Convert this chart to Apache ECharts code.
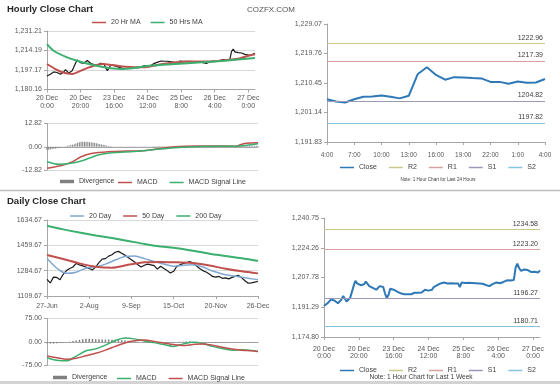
<!DOCTYPE html>
<html><head><meta charset="utf-8">
<script src="https://cdn.jsdelivr.net/npm/echarts@6/dist/echarts.min.js"></script>
<style>html,body{margin:0;padding:0;background:#fff}#c{width:560px;height:384px}</style>
</head><body><div id="c"></div>
<script>
// ---------- DATA ----------
const weekTicks = ['20 Dec\n0:00','20 Dec\n20:00','23 Dec\n16:00','24 Dec\n12:00','25 Dec\n8:00','26 Dec\n4:00','27 Dec\n0:00'];
const hour24 = ['4:00','5:00','6:00','7:00','8:00','9:00','10:00','11:00','12:00','13:00','14:00','15:00','16:00','17:00','18:00','19:00','20:00','21:00','22:00','23:00','0:00','1:00','2:00','3:00','4:00'];
const dailyTicks = ['27-Jun','2-Aug','9-Sep','15-Oct','20-Nov','26-Dec'];

const yHourly = ['1,180.16','1,197.17','1,214.19','1,231.21'];
const yMacdH = ['-12.82','0.00','12.82'];
const y24 = ['1,191.83','1,201.14','1,210.45','1,219.76','1,229.07'];
const yDaily = ['1109.67','1284.67','1459.67','1634.67'];
const yMacdD = ['-75.00','0.00','75.00'];
const yWeek = ['1,174.80','1,191.29','1,207.78','1,224.26','1,240.75'];

const hourlyClose = [
 1192,1192.5,1193.5,1194.5,1195.5,1196,1195,1194.5,1193.5,1193,1195.5,1197.5,1196,1194.5,1194,1196.5,1197,1203,1206,1204.5,1203.5,
 1203.5,1203,1204,1205.5,1205,1203,1202.5,1202,1201.5,1201,1202,1203,1203,1202.5,1199,1196.5,1198,1201.5,1201.5,1201,
 1200.5,1200,1199.5,1199,1198.5,1198.5,1198.8,1198.5,1198.3,1198.5,1199,1199.3,1199.5,1199.3,1199.5,1199.5,1200,1201,1201.5,1200.5,
 1200.8,1201,1202.5,1203,1203.5,1204,1204.5,1205,1205,1204.8,1204.5,1204.8,1204.6,1204.3,1204.5,1203.8,1204.5,1202.5,1205,1204.8,
 1204.7,1204.7,1204.8,1204.6,1204.7,1204.7,1204.6,1204.5,1204.5,1204.4,1204.3,1204.0,1203.6,1203.2,1203.0,1203.6,1204.2,1204.8,1205.0,
 1205.3,1204.6,1204.3,1205.3,1206.1,1206.2,1206.5,1206.1,1205.6,1206.4,1213.3,1215.4,1213,1211.5,1212.3,1212.2,1212,1211.9,1210.8,1210.8,1210.2,1210.9,1210.5,1210.6,1211.7
];
const ma20HIdx = [0,5,9,15,19,25,33,39,47,57,67,77,87,97,107,113,119,124];
const ma20HVal = [1202.4,1198,1195.2,1193.7,1195.8,1199.5,1202.4,1201.5,1200.1,1199.5,1201.9,1203.9,1204.7,1204.7,1205.9,1206.7,1209.1,1211];
const ma50HIdx = [0,4,12,18,25,34,44,52,62,76,92,106,124];
const ma50HVal = [1219.8,1214,1208.2,1205.3,1202.4,1199.5,1198.1,1199,1201,1202.4,1203.9,1205.3,1207.6];

const macdHIdx = [0,5,10,15,20,26,36,47,57,67,75,87,101,111,114,117,124];
const macdHVal = [-11.9,-11,-10,-8.2,-5.5,-3.7,-2.7,-2.4,-2.2,-0.9,0,0.4,0.4,0.3,1.2,1.9,2.2];
const sigHIdx = [0,7,15,22,30,38,51,61,75,91,111,124];
const sigHVal = [-8.3,-9.7,-9.0,-7.3,-4.6,-3.3,-2.6,-1.8,-0.5,0.2,0.3,1.6];
const divH = [
 -1.8,-1.6,-1.5,-1.3,-1.1,-1.0,-0.8,-0.6,-0.4,-0.2,
 0.1,0.3,0.5,0.7,0.9,1.1,1.4,1.8,2.2,2.5,
 2.7,2.8,2.8,2.7,2.6,2.5,2.4,2.3,2.1,1.9,
 1.7,1.5,1.3,1.1,0.9,0.6,0.4,0.3,0.3,0.2,
 0.2,0.2,0.1,0.1,0.1,0.1,0.1,0.1,0.1,0.1,
 0.1,0.1,0.1,0.1,0.1,0.1,0.2,0.2,0.2,0.2,
 0.2,0.2,0.2,0.3,0.3,0.3,0.3,0.3,0.3,0.3,
 0.3,0.3,0.3,0.3,0.3,0.2,0.2,0.2,0.2,0.2,
 0.2,0.2,0.2,0.2,0.1,0.1,0.1,0.1,0.1,0.1,
 0.1,0.1,0.1,0.1,0.1,0.1,0.1,0.1,0.1,0.1,
 0.1,0.1,0.1,0.1,0.1,0.1,0.1,0.1,0.1,0.1,
 0.2,0.4,0.5,0.5,0.5,0.5,0.5,0.5,0.5,0.5,
 0.5,0.5,0.5,0.6,0.6
];

const levelNames = ['R2','R1','S1','S2'];
const levelColors = ['#C9C98F','#D9A0A2','#9B98B8','#86C3DE'];
const levels24 = [1222.96,1217.39,1204.82,1197.82];
const levelsWeek = [1234.58,1223.20,1196.27,1180.71];

const dailyClose = [
 1225,1200,1240,1238,1222,1260,1285,1300,1310,1335,
 1325,1318,1310,1300,1290,1310,1340,1365,1368,1385,
 1395,1412,1418,1405,1392,1375,1360,1345,1325,1310,
 1322,1330,1325,1320,1295,1315,1300,1285,1268,1280,
 1315,1325,1335,1340,1348,1335,1318,1300,1285,1275,
 1262,1245,1240,1245,1232,1235,1228,1238,1245,1252,
 1235,1215,1198,1200,1205,1210
];
const ma20DIdx = [0,2,4,6,9,12,15,18,21,24,27,30,33,36,39,42,45,48,51,54,57,60,63,65];
const ma20DVal = [1368,1322,1286,1266,1274,1302,1312,1330,1358,1382,1386,1368,1348,1330,1316,1322,1325,1310,1282,1262,1250,1240,1228,1222];
const ma50DIdx = [0,5,10,15,20,25,30,35,40,45,50,55,60,65];
const ma50DVal = [1393,1365,1335,1312,1305,1325,1342,1345,1342,1338,1320,1298,1280,1266];
const ma200DIdx = [0,5,10,15,20,25,30,35,40,45,50,55,60,65];
const ma200DVal = [1595,1570,1548,1528,1510,1490,1469,1452,1440,1422,1402,1386,1370,1351];
const macdDIdx = [0,3,6,9,12,15,18,21,24,27,30,33,36,39,42,45,48,51,54,57,60,63,65];
const macdDVal = [-50,-58,-60,-45,-28,-22,-10,5,13,10,3,-2,-8,-14,-6,-1,-5,-14,-21,-26,-25,-27,-30];
const sigDVal = [-45,-50,-55,-52,-44,-36,-26,-14,-3,4,6,2,-3,-8,-11,-8,-6,-10,-17,-22,-26,-28,-30];
const divD = [
 -4,-5,-5,-4,-3,-2,-1,
 1,3,5,7,9,10,10,10,9,9,8,8,8,7,7,6,6,5,4,3,
 2,1,0,-1,-1,-1,-2,-2,-2,-2,-1,-1,-1,0,1,1,2,2,1,1,0,-1,-1,-2,-2,-2,-2,-2,-2,-1,-1,-1,-1,-1,-1,-1,-1,-1,-1
];

// ---------- HELPERS ----------
const FONT = '"Liberation Sans", Arial, sans-serif';
const LBL = '#595959';
const AX = '#A6A6A6';
const GRIDC = '#D9D9D9';
function sparse(idx, vals, n){ const a = new Array(n).fill(null); idx.forEach((k,j)=>{a[k]=vals[j];}); return a; }
function nums(labels){ return labels.map(s=>parseFloat(s.replace(/,/g,''))); }
function yAx(gi, labels, split){
  const v = nums(labels); const min = v[0]; const iv = (v[v.length-1]-min)/(v.length-1);
  let max = min; for (let k=1;k<v.length;k++) max = max + iv;
  return { type:'value', gridIndex:gi, min:min, max:max, interval:iv,
    axisLabel:{ fontSize:7, color:LBL, fontFamily:FONT, margin:5,
      formatter: function(x){ let b=0; for(let i=1;i<v.length;i++) if(Math.abs(v[i]-x)<Math.abs(v[b]-x)) b=i; return labels[b]; } },
    axisLine:{show:true, lineStyle:{color:AX}}, axisTick:{show:true, length:3, lineStyle:{color:AX}},
    splitLine:{show:split, lineStyle:{color:GRIDC, width:1}} };
}
// labelFn maps a category index to its tick label
function xCat(gi, n, labelFn, step, margin, fs, showLabel){
  const cats = []; for (let i=0;i<n;i++) cats.push(String(i));
  return { type:'category', gridIndex:gi, data:cats, boundaryGap:false,
    axisLine:{show:true, onZero:true, lineStyle:{color:AX}},
    axisTick:{show:showLabel, interval:step-1, length:3, lineStyle:{color:AX}},
    axisLabel:{show:showLabel, interval:step-1, fontSize:fs, lineHeight:7.5, color:LBL, fontFamily:FONT, margin:margin,
      formatter: function(val){ return labelFn(Number(val)) || ''; } },
    splitLine:{show:false} };
}
const weekLabel = i => weekTicks[Math.round(i/20)];
const hourLabel = i => hour24[i];
const dayLabel = i => dailyTicks[Math.round(i/13)];

function lineS(name, xi, data, color, width, extra){
  return Object.assign({ name:name, type:'line', xAxisIndex:xi, yAxisIndex:xi, data:data, symbol:'none', color:color,
    lineStyle:{color:color, width:width}, connectNulls:true, animation:false }, extra||{});
}
function levelS(name, xi, val, color){
  return { name:name, type:'line', xAxisIndex:xi, yAxisIndex:xi, data:[], symbol:'none', color:color,
    lineStyle:{color:color, width:1}, animation:false,
    markLine:{ silent:true, symbol:'none', animation:false, lineStyle:{color:color, width:1, type:'solid'},
      label:{show:true, position:'insideEndTop', formatter: val.toFixed(2), fontSize:7, color:'#404040', fontFamily:FONT, distance:2},
      data:[{yAxis:val}] } };
}
function leg(names, left, top, gap, h){
  return { data:names.map(n=>({name:n, icon:'rect'})), left:left, top:top, orient:'horizontal', itemWidth:14, itemHeight:h, itemGap:gap, padding:0,
    selectedMode:false, textStyle:{fontSize:7, color:'#404040', fontFamily:FONT},
    formatter: function(n){ return n.split('#')[0]; } };
}

const NH = hourlyClose.length;
const ND = dailyClose.length;
const last24 = hourlyClose.slice(NH-25);

const series = [
  lineS('Close#h', 0, hourlyClose, '#1A1A1A', 1.2, {z:3}),
  lineS('20 Hr MA', 0, sparse(ma20HIdx, ma20HVal, NH), '#C0504D', 2, {smooth:0.3}),
  lineS('50 Hrs MA', 0, sparse(ma50HIdx, ma50HVal, NH), '#3BAF6E', 2, {smooth:0.3}),
  { name:'Divergence', type:'bar', xAxisIndex:1, yAxisIndex:1, data:divH, barWidth:1, color:'#808080', animation:false },
  lineS('MACD', 1, sparse(macdHIdx, macdHVal, NH), '#C0504D', 1.5, {smooth:0.3}),
  lineS('MACD Signal Line', 1, sparse(sigHIdx, sigHVal, NH), '#3BAF6E', 1.5, {smooth:0.3}),
  lineS('Close', 2, last24, '#2E78B7', 2, {z:3}),
  lineS('Close#d', 3, dailyClose, '#1A1A1A', 1.2, {z:3}),
  lineS('20 Day', 3, sparse(ma20DIdx, ma20DVal, ND), '#7FA7D2', 1.5, {smooth:0.3}),
  lineS('50 Day', 3, sparse(ma50DIdx, ma50DVal, ND), '#C0504D', 2, {smooth:0.3}),
  lineS('200 Day', 3, sparse(ma200DIdx, ma200DVal, ND), '#3BAF6E', 2, {smooth:0.3}),
  { name:'Divergence#d', type:'bar', xAxisIndex:4, yAxisIndex:4, data:divD, barWidth:1.5, color:'#808080', animation:false },
  lineS('MACD#d', 4, sparse(macdDIdx, macdDVal, ND), '#3BAF6E', 1.5, {smooth:0.3}),
  lineS('MACD Signal Line#d', 4, sparse(macdDIdx, sigDVal, ND), '#C0504D', 1.5, {smooth:0.3}),
  lineS('Close#w', 5, hourlyClose, '#2E78B7', 2, {z:3})
];
levelNames.forEach((n,i)=>{ series.push(levelS(n, 2, levels24[i], levelColors[i])); });
levelNames.forEach((n,i)=>{ series.push(levelS(n+'#w', 5, levelsWeek[i], levelColors[i])); });

const option = {
  animation:false,
  textStyle:{fontFamily:FONT},
  grid:[
    {left:47, top:31, width:208, height:58.5},
    {left:47, top:123.5, width:211, height:46.5},
    {left:327, top:24, width:218, height:118},
    {left:47, top:220, width:211, height:76},
    {left:47, top:318.5, width:211, height:47},
    {left:324, top:218, width:216, height:119}
  ],
  xAxis:[
    xCat(0, NH, weekLabel, 20, 5, 7, true),
    xCat(1, NH, weekLabel, 20, 5, 7, false),
    xCat(2, 25, hourLabel, 3, 9, 6.5, true),
    xCat(3, ND, dayLabel, 13, 6, 7, true),
    xCat(4, ND, dayLabel, 13, 5, 7, false),
    xCat(5, NH, weekLabel, 20, 8, 7, true)
  ],
  yAxis:[
    yAx(0, yHourly, true),
    yAx(1, yMacdH, true),
    yAx(2, y24, false),
    yAx(3, yDaily, true),
    yAx(4, yMacdD, true),
    yAx(5, yWeek, false)
  ],
  legend:[
    leg(['20 Hr MA','50 Hrs MA'], 92, 19, 10, 1.5),
    leg(['Divergence'], 60, 178, 6, 3.5),
    leg(['MACD','MACD Signal Line'], 118, 179, 12, 1.5),
    leg(['Close','R2','R1','S1','S2'], 340, 164, 12, 1.5),
    leg(['20 Day','50 Day','200 Day'], 70, 212.5, 12, 1.5),
    leg(['Divergence#d'], 53, 374, 6, 3.5),
    leg(['MACD#d','MACD Signal Line#d'], 117, 375, 12, 1.5),
    leg(['Close#w','R2#w','R1#w','S1#w','S2#w'], 340, 367, 12, 1.5)
  ],
  graphic:[
    {type:'text', x:7, y:9.5, style:{text:'Hourly Close Chart', fontSize:9.5, fontWeight:'bold', fontFamily:FONT, fill:'#262626', verticalAlign:'middle'}},
    {type:'text', x:247, y:9.5, style:{text:'COZFX.COM', fontSize:8, fontFamily:FONT, fill:'#555555', verticalAlign:'middle'}},
    {type:'text', x:7, y:201, style:{text:'Daily Close Chart', fontSize:9.5, fontWeight:'bold', fontFamily:FONT, fill:'#262626', verticalAlign:'middle'}},
    {type:'text', x:438, y:180, style:{text:'Note: 1 Hour Chart for Last 24 Hours', fontSize:4.6, fontFamily:FONT, fill:'#404040', align:'center', verticalAlign:'middle'}},
    {type:'text', x:421, y:377.5, style:{text:'Note: 1 Hour Chart for Last 1 Week', fontSize:6.6, fontFamily:FONT, fill:'#404040', align:'center', verticalAlign:'middle'}},
    {type:'line', shape:{x1:0, y1:190.5, x2:560, y2:190.5}, style:{stroke:'#BDBDBD', lineWidth:1.5}},
    {type:'rect', shape:{x:0, y:381, width:560, height:3}, style:{fill:'#D3D3D3'}}
  ],
  series: series
};
const chart = echarts.init(document.getElementById('c'));
chart.setOption(option);
</script></body></html>
